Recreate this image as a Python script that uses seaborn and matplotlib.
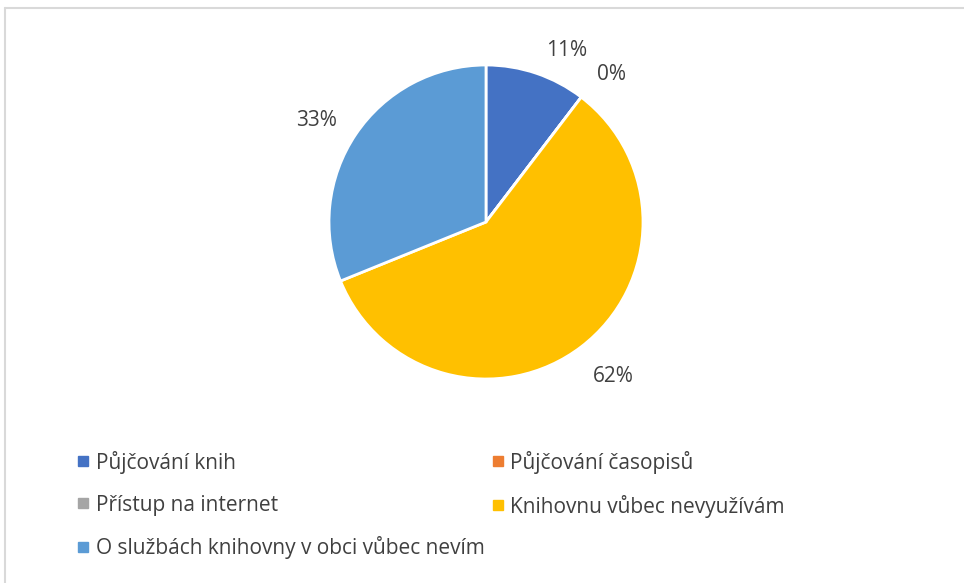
import matplotlib
matplotlib.use("Agg")
import matplotlib.pyplot as plt
import seaborn as sns
from matplotlib.lines import Line2D

sns.set_theme(style="white")
plt.rcParams['font.family'] = ['Open Sans', 'DejaVu Sans']

categories = ["Půjčování knih", "Půjčování časopisů", "Přístup na internet",
              "Knihovnu vůbec nevyužívám", "O službách knihovny v obci vůbec nevím"]
values = [11, 0, 0, 62, 33]
value_labels = ["11%", "0%", "", "62%", "33%"]
colors = ["#4472C4", "#ED7D31", "#A5A5A5", "#FFC000", "#5B9BD5"]

W, H = 964, 583
fig = plt.figure(figsize=(W / 100, H / 100), dpi=100)
fig.patch.set_facecolor("white")

cx, cy, r = 486, 222, 157
ax = fig.add_axes([(cx - r) / W, (H - cy - r) / H, 2 * r / W, 2 * r / H])
ax.pie(values, colors=colors, startangle=90, counterclock=False,
       wedgeprops=dict(edgecolor="white", linewidth=2), radius=1)
ax.set_xlim(-1, 1)
ax.set_ylim(-1, 1)
ax.set_aspect("equal")
ax.axis("off")

# label positions (pixel coords of reference)
label_pos = [(567, 50), (611, 75), None, (613, 377), (316, 120)]
for txt, pos in zip(value_labels, label_pos):
    if pos is None or not txt:
        continue
    px, py = pos
    ax.text((px - cx) / r, (cy - py) / r, txt, ha="center", va="center",
            fontsize=15, color="#404040", clip_on=False)

order = [0, 2, 4, 1, 3]
handles = [Line2D([0], [0], marker="s", linestyle="none", markersize=7,
                  markerfacecolor=colors[i], markeredgecolor=colors[i]) for i in order]
labels = [categories[i] for i in order]
fig.legend(handles, labels, ncol=2, loc="upper left",
           bbox_to_anchor=(58 / W, 1 - 432 / H), frameon=False,
           fontsize=15, labelcolor="#404040", handlelength=0.6,
           handletextpad=0.3, columnspacing=0.35, labelspacing=1.0)

# border lines
fig.add_artist(Line2D([5 / W, 5 / W], [0, 1 - 8 / H], color="#D9D9D9", lw=1.5,
                      transform=fig.transFigure))
fig.add_artist(Line2D([5 / W, 1], [1 - 8 / H, 1 - 8 / H], color="#D9D9D9", lw=1.5,
                      transform=fig.transFigure))

fig.savefig("out.png", dpi=100, facecolor="white")
